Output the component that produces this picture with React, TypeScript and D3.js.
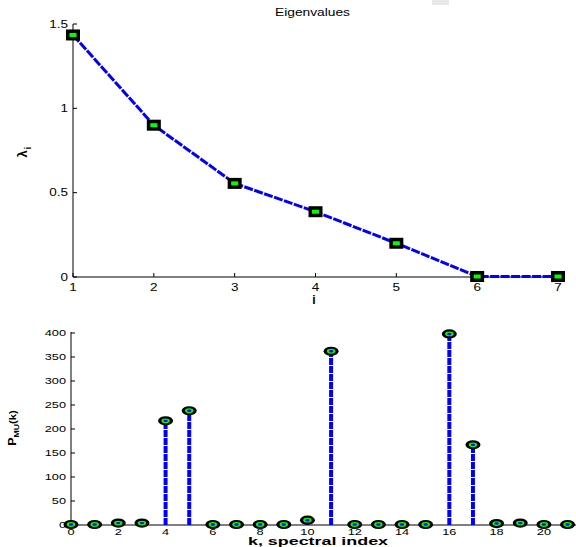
import React from "react";
import * as d3 from "d3";

// eigenvalue plot
const eigIndex = [1, 2, 3, 4, 5, 6, 7];
const eigValues = [1.435, 0.9, 0.555, 0.387, 0.2, 0.003, 0.003];
const eigYTicks = [0, 0.5, 1, 1.5];

// MUSIC pseudo-spectrum
const specIndex = [0, 1, 2, 3, 4, 5, 6, 7, 8, 9, 10, 11, 12, 13, 14, 15, 16, 17, 18, 19, 20, 21];
const specValues = [1, 1, 4, 4, 217, 238, 1, 1, 1, 1, 10, 362, 1, 1, 1, 1, 398, 167, 3, 4, 1, 1];
const specXTicks = [0, 2, 4, 6, 8, 10, 12, 14, 16, 18, 20];
const specYTicks = [0, 50, 100, 150, 200, 250, 300, 350, 400];

const FONT = "'Liberation Sans', Arial, sans-serif";

// matlab-ish stretched tick text
const Tick = ({ x, y, anchor, size, sx, children }: any) => (
  <text
    transform={`translate(${x},${y}) scale(${sx},1)`}
    fontSize={size}
    textAnchor={anchor}
  >
    {children}
  </text>
);

const App = () => {
  const W = 576;
  const H = 547;

  // top axes
  const x1 = d3.scaleLinear().domain([1, 7]).range([73, 558]);
  const y1 = d3.scaleLinear().domain([0, 1.5]).range([277, 24]);
  const line = d3
    .line<number>()
    .x((_, i) => x1(eigIndex[i]))
    .y((d) => y1(d));

  // bottom axes
  const x2 = d3.scaleLinear().domain([0, 21.4]).range([71, 577]);
  const y2 = d3.scaleLinear().domain([0, 400]).range([525, 333]);

  return (
    <svg
      width={W}
      height={H}
      style={{ position: "absolute", left: 0, top: 0, background: "#fff" }}
      fontFamily={FONT}
    >
      <rect x={432} y={0} width={17} height={5} fill="#e8e8e8" />

      {/* ---- top: eigenvalues ---- */}
      <text x={275} y={16} fontSize={10} textLength={75} lengthAdjust="spacingAndGlyphs">
        Eigenvalues
      </text>
      <line x1={x1(1)} x2={x1(7) + 2} y1={y1(0)} y2={y1(0)} stroke="#000" />
      <line x1={x1(1)} x2={x1(1)} y1={y1(0)} y2={y1(1.5)} stroke="#000" />
      {eigYTicks.map((t) => (
        <g key={"ey" + t}>
          <line x1={x1(1)} x2={x1(1) + 4} y1={y1(t)} y2={y1(t)} stroke="#000" />
          <Tick x={x1(1) - 5} y={y1(t) + 3.5} anchor="end" size={10} sx={1.35}>
            {t}
          </Tick>
        </g>
      ))}
      {eigIndex.map((t) => (
        <g key={"ex" + t}>
          <line x1={x1(t)} x2={x1(t)} y1={y1(0)} y2={y1(0) - 4} stroke="#000" />
          <Tick x={x1(t)} y={y1(0) + 14} anchor="middle" size={10} sx={1.35}>
            {t}
          </Tick>
        </g>
      ))}
      <text x={314} y={304} fontSize={12} fontWeight="bold" textAnchor="middle">
        i
      </text>
      <text transform="translate(27,152) rotate(-90)" fontSize={13} fontWeight="bold" textAnchor="middle">
        λ
        <tspan dx={1} dy={4} fontSize={9}>
          i
        </tspan>
      </text>
      <path
        d={line(eigValues) || ""}
        fill="none"
        stroke="#0000ff"
        strokeWidth={3}
        strokeDasharray="9 1.5"
      />
      {eigValues.map((v, i) => (
        <g key={"em" + i}>
          <rect x={x1(eigIndex[i]) - 7} y={y1(v) - 5.5} width={14} height={11} fill="#000" />
          <rect x={x1(eigIndex[i]) - 3.5} y={y1(v) - 2} width={7} height={4} fill="#00ff00" />
        </g>
      ))}

      {/* ---- bottom: pseudo-spectrum ---- */}
      <line x1={x2(0)} x2={W} y1={y2(0)} y2={y2(0)} stroke="#000" />
      <line x1={x2(0)} x2={x2(0)} y1={y2(0)} y2={y2(400) - 1} stroke="#000" />
      {specYTicks.map((t) => (
        <g key={"sy" + t}>
          <line x1={x2(0)} x2={x2(0) + 4} y1={y2(t)} y2={y2(t)} stroke="#000" />
          <Tick x={x2(0) - 5} y={y2(t) + 3} anchor="end" size={8.5} sx={1.5}>
            {t}
          </Tick>
        </g>
      ))}
      {specXTicks.map((t) => (
        <g key={"sx" + t}>
          <line x1={x2(t)} x2={x2(t)} y1={y2(0)} y2={y2(0) - 4} stroke="#000" />
          <Tick x={x2(t)} y={y2(0) + 10} anchor="middle" size={8.5} sx={1.5}>
            {t}
          </Tick>
        </g>
      ))}
      {specValues.map((v, i) => (
        <line
          key={"st" + i}
          x1={x2(specIndex[i])}
          x2={x2(specIndex[i])}
          y1={y2(0)}
          y2={y2(v)}
          stroke="#0000ff"
          strokeWidth={4}
          strokeDasharray="7 1"
        />
      ))}
      {specValues.map((v, i) => (
        <g key={"sm" + i}>
          <ellipse cx={x2(specIndex[i])} cy={y2(v)} rx={7.5} ry={4.6} fill="#000" />
          <ellipse cx={x2(specIndex[i])} cy={y2(v)} rx={4.2} ry={2.4} fill="#00ff00" />
          <ellipse cx={x2(specIndex[i])} cy={y2(v)} rx={2.2} ry={1.2} fill="#0000ff" />
        </g>
      ))}
      <text
        x={248}
        y={545}
        fontSize={11.5}
        fontWeight="bold"
        textLength={140}
        lengthAdjust="spacingAndGlyphs"
      >
        k, spectral index
      </text>
      <text
        transform="translate(16,428) rotate(-90) scale(1.25,1)"
        fontSize={10}
        fontWeight="bold"
        textAnchor="middle"
      >
        P
        <tspan dy={3} fontSize={7}>
          MU
        </tspan>
        <tspan dy={-3} fontSize={9}>
          (k)
        </tspan>
      </text>
    </svg>
  );
};

export default App;
